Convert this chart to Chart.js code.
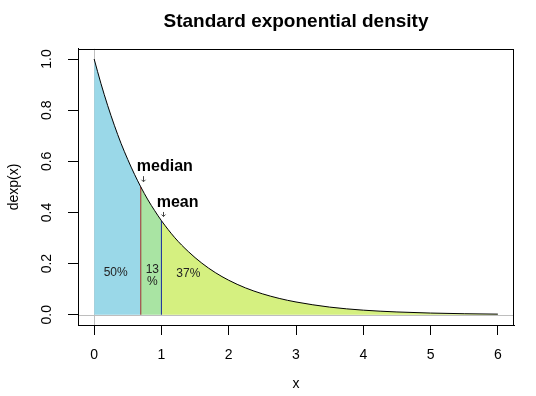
<!DOCTYPE html>
<html>
<head>
<meta charset="utf-8">
<script src="https://cdn.jsdelivr.net/npm/chart.js@4"></script>
<style>
  body { margin: 0; background: #fff; }
  #wrap { width: 536px; height: 396px; }
</style>
</head>
<body>
<div id="wrap"><canvas id="chart"></canvas></div>
<script>
// curve
const xs   = [0, 0.1, 0.2, 0.3, 0.4, 0.5, 0.6, 0.693, 0.8, 0.9, 1, 1.2, 1.4, 1.6, 1.8, 2, 2.25, 2.5, 2.75, 3, 3.5, 4, 4.5, 5, 5.5, 6];
const dens = [1.0, 0.905, 0.819, 0.741, 0.670, 0.607, 0.549, 0.5, 0.449, 0.407, 0.368, 0.301, 0.247, 0.202, 0.165, 0.135, 0.105, 0.082, 0.064, 0.05, 0.03, 0.018, 0.011, 0.0067, 0.0041, 0.0025];

// shaded regions: 0..median, median..mean, mean..6
const cuts = [0, 0.693, 1, 6];
const shares = ["50%", "13\n%", "37%"];

// median and mean markers
const markerNames = ["median", "mean"];
const markerX = [0.693, 1];
const markerY = [0.5, 0.368];

const xTicks = [0, 1, 2, 3, 4, 5, 6];
const yTicks = [0, 0.2, 0.4, 0.6, 0.8, 1.0];
const hLines = [0];
const vLines = [0];

const fillColors = ["#9AD8E8", "#A9E4A3", "#D5F080"];
const markerColors = ["#9A2A22", "#1A2A9A"];

const FONT = "'Liberation Sans', Arial, sans-serif";
Chart.defaults.font.family = FONT;
Chart.defaults.color = "#000";

const curve = xs.map((x, i) => ({ x: x, y: dens[i] }));

const datasets = [];
datasets.push({
  data: curve, borderColor: "#000", borderWidth: 1, pointRadius: 0,
  cubicInterpolationMode: "monotone", fill: false
});
markerX.forEach((x, i) => {
  datasets.push({
    data: [{ x: x, y: 0 }, { x: x, y: markerY[i] }],
    borderColor: markerColors[i], borderWidth: 1, pointRadius: 0, fill: false
  });
});
for (let i = 0; i < cuts.length - 1; i++) {
  const part = curve.filter(p => p.x >= cuts[i] && p.x <= cuts[i + 1]);
  datasets.push({
    data: part, borderWidth: 0, borderColor: "rgba(0,0,0,0)", pointRadius: 0,
    backgroundColor: fillColors[i], fill: "origin", cubicInterpolationMode: "monotone"
  });
}

// text placements (data units)
const shareAt = [[0.32, 0.165], [0.865, 0.152], [1.40, 0.160]];
const nameAt = [[1.05, 0.578], [1.24, 0.438]];
const arrowAt = [[0.719, 0.542, 0.520], [1.016, 0.402, 0.384]];

const extras = {
  id: "extras",
  beforeDraw(chart) {
    const c = chart.ctx;
    c.save();
    c.fillStyle = "#fff";
    c.fillRect(0, 0, chart.width, chart.height);
    c.restore();
  },
  beforeDatasetsDraw(chart) {
    const { ctx: c, chartArea: a, scales: { x, y } } = chart;
    c.save();
    c.strokeStyle = "#BEBEBE";
    c.lineWidth = 1;
    hLines.forEach(v => {
      const py = Math.round(y.getPixelForValue(v)) + 0.5;
      c.beginPath(); c.moveTo(a.left, py); c.lineTo(a.right, py); c.stroke();
    });
    vLines.forEach(v => {
      const px = Math.round(x.getPixelForValue(v)) + 0.5;
      c.beginPath(); c.moveTo(px, a.top); c.lineTo(px, a.bottom); c.stroke();
    });
    c.restore();
  },
  afterDatasetsDraw(chart) {
    const { ctx: c, chartArea: a, scales: { x, y } } = chart;
    c.save();
    c.textAlign = "center";
    c.textBaseline = "middle";
    c.fillStyle = "#222";
    c.font = "12px " + FONT;
    shares.forEach((t, i) => {
      const lines = t.split("\n");
      lines.forEach((ln, k) => {
        c.fillText(ln, x.getPixelForValue(shareAt[i][0]),
          y.getPixelForValue(shareAt[i][1]) + (k - (lines.length - 1) / 2) * 12.5);
      });
    });
    c.fillStyle = "#000";
    c.font = "bold 16px " + FONT;
    markerNames.forEach((t, i) => {
      c.fillText(t, x.getPixelForValue(nameAt[i][0]), y.getPixelForValue(nameAt[i][1]));
    });
    c.strokeStyle = "#444";
    c.lineWidth = 1;
    arrowAt.forEach(ar => {
      const px = Math.round(x.getPixelForValue(ar[0])) + 0.5;
      const y1 = y.getPixelForValue(ar[1]);
      const y2 = y.getPixelForValue(ar[2]);
      c.beginPath();
      c.moveTo(px, y1); c.lineTo(px, y2);
      c.moveTo(px - 2, y2 - 2); c.lineTo(px, y2); c.lineTo(px + 2, y2 - 2);
      c.stroke();
    });
    // plot box
    c.strokeStyle = "#000";
    c.strokeRect(Math.round(a.left) + 0.5, Math.round(a.top) + 0.5,
      Math.round(a.right - a.left) - 1, Math.round(a.bottom - a.top));
    c.restore();
  }
};

new Chart(document.getElementById("chart"), {
  type: "line",
  data: { datasets: datasets },
  options: {
    responsive: true,
    maintainAspectRatio: false,
    animation: false,
    devicePixelRatio: 1,
    layout: { padding: { top: 0, right: 22, bottom: 0, left: 0 } },
    plugins: {
      legend: { display: false },
      tooltip: { enabled: false },
      title: {
        display: true,
        fullSize: false,
        text: "Standard exponential density",
        font: { size: 19, weight: "bold" },
        color: "#000",
        padding: { top: 10, bottom: 16 }
      }
    },
    scales: {
      x: {
        type: "linear",
        min: -0.24, max: 6.24,
        afterBuildTicks: s => { s.ticks = xTicks.map(v => ({ value: v })); },
        afterFit: s => { s.height = 71; },
        grid: { drawOnChartArea: false, drawTicks: true, tickLength: 10, tickColor: "#000" },
        border: { color: "#000" },
        ticks: { font: { size: 14 }, padding: 12, color: "#000", maxRotation: 0 },
        title: { display: true, text: "x", font: { size: 14 }, padding: { bottom: 3 } }
      },
      y: {
        type: "linear",
        min: -0.04, max: 1.04,
        afterBuildTicks: s => { s.ticks = yTicks.map(v => ({ value: v })); },
        afterFit: s => { s.width = 78; },
        grid: { drawOnChartArea: false, drawTicks: true, tickLength: 10, tickColor: "#000" },
        border: { color: "#000" },
        ticks: {
          font: { size: 14 }, padding: 11, color: "#000",
          minRotation: 90, maxRotation: 90, crossAlign: "center",
          callback: v => v.toFixed(1)
        },
        title: { display: true, text: "dexp(x)", font: { size: 14 }, padding: { top: 6 } }
      }
    }
  },
  plugins: [extras]
});
</script>
</body>
</html>
